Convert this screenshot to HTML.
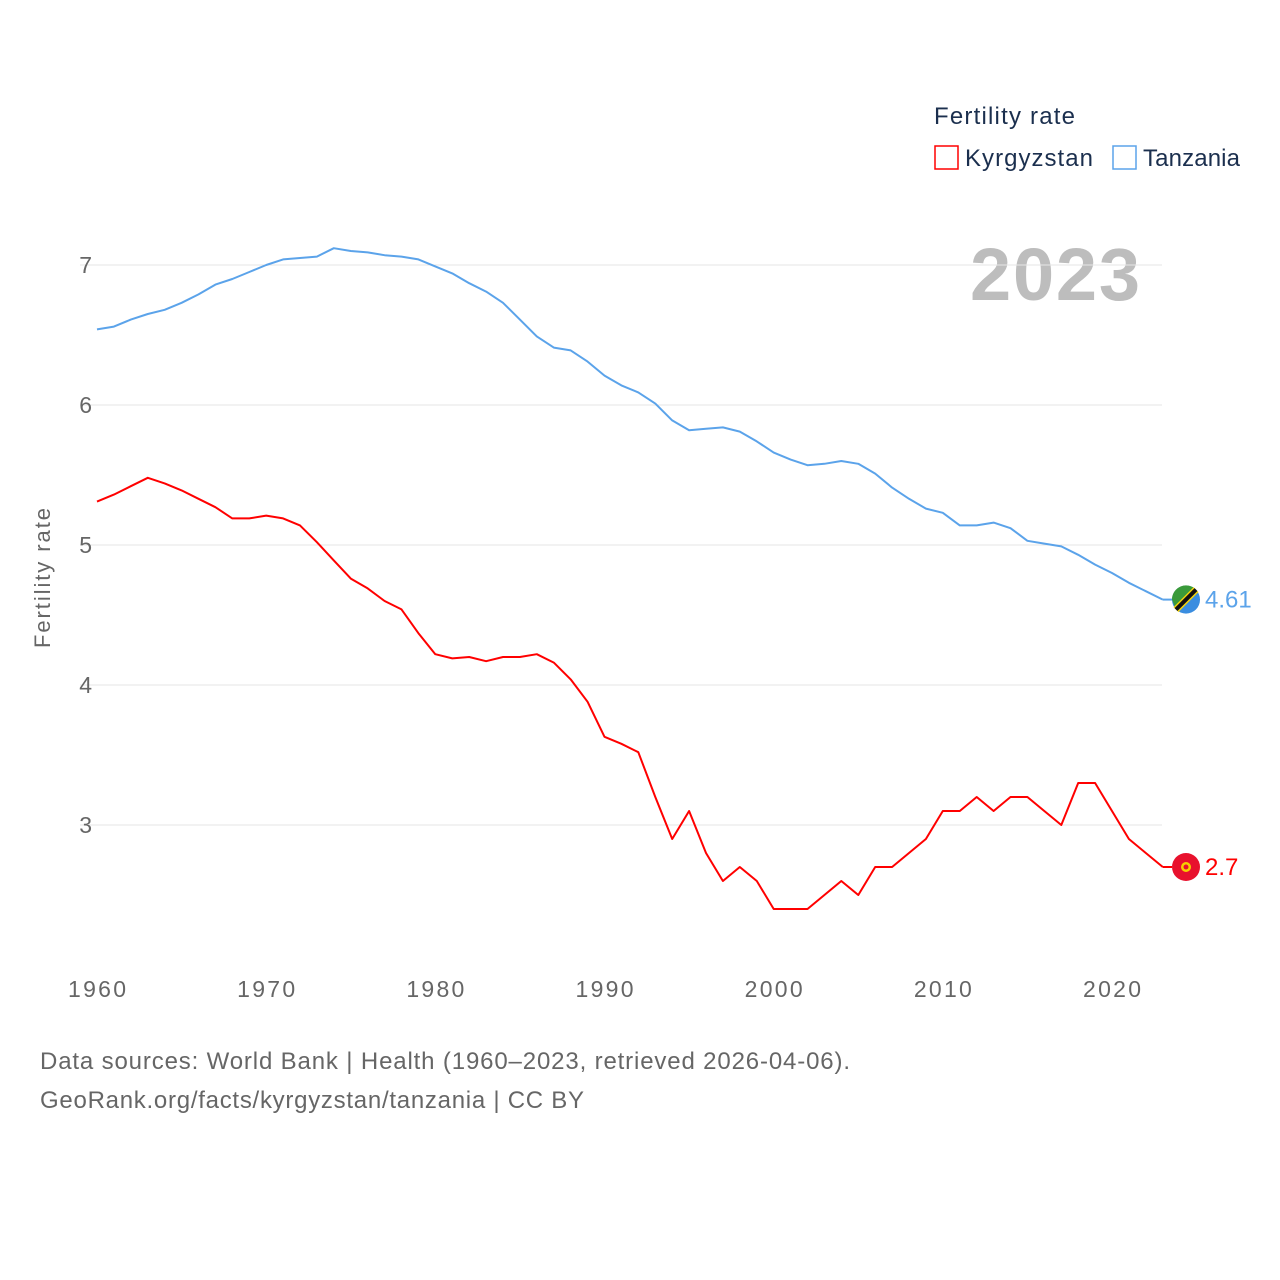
<!DOCTYPE html>
<html><head><meta charset="utf-8"><style>
body{margin:0;background:#fff;font-family:"Liberation Sans",sans-serif}
svg{display:block}
</style></head><body>
<svg id="chart" width="1280" height="1280">
<text x="934" y="124" font-size="24" fill="#1b2f4e" textLength="141">Fertility rate</text>
<g><rect x="935" y="146" width="23" height="23" fill="none" stroke="#f00" stroke-width="1.5"/><text x="965" y="166" font-size="24" fill="#1b2f4e" textLength="128">Kyrgyzstan</text></g>
<g><rect x="1113" y="146" width="23" height="23" fill="none" stroke="#5ba3ea" stroke-width="1.5"/><text x="1143" y="166" font-size="24" fill="#1b2f4e" textLength="97">Tanzania</text></g>
<text x="970" y="300" font-size="74" font-weight="bold" fill="#bdbdbd" textLength="170">2023</text>
<text transform="translate(50,578) rotate(-90)" font-size="22" fill="#666" text-anchor="middle" textLength="140">Fertility rate</text>
<g id="grid"></g><g id="xt"></g><g id="lines"></g>
<text x="40" y="1069" font-size="24" fill="#666" textLength="810">Data sources: World Bank | Health (1960–2023, retrieved 2026-04-06).</text>
<text x="40" y="1108" font-size="24" fill="#666" textLength="544">GeoRank.org/facts/kyrgyzstan/tanzania | CC BY</text>
</svg>
<script>
const startYear = 1960;
const yTicks = [3,4,5,6,7];
const xTicks = [1960,1970,1980,1990,2000,2010,2020];
const tanzania = [6.54,6.56,6.61,6.65,6.68,6.73,6.79,6.86,6.90,6.95,7.00,7.04,7.05,7.06,7.12,7.10,7.09,7.07,7.06,7.04,6.99,6.94,6.87,6.81,6.73,6.61,6.49,6.41,6.39,6.31,6.21,6.14,6.09,6.01,5.89,5.82,5.83,5.84,5.81,5.74,5.66,5.61,5.57,5.58,5.60,5.58,5.51,5.41,5.33,5.26,5.23,5.14,5.14,5.16,5.12,5.03,5.01,4.99,4.93,4.86,4.80,4.73,4.67,4.61];
const kyrgyzstan = [5.31,5.36,5.42,5.48,5.44,5.39,5.33,5.27,5.19,5.19,5.21,5.19,5.14,5.02,4.89,4.76,4.69,4.60,4.54,4.37,4.22,4.19,4.20,4.17,4.20,4.20,4.22,4.16,4.04,3.88,3.63,3.58,3.52,3.20,2.90,3.10,2.80,2.60,2.70,2.60,2.40,2.40,2.40,2.50,2.60,2.50,2.70,2.70,2.80,2.90,3.10,3.10,3.20,3.10,3.20,3.20,3.10,3.00,3.30,3.30,3.10,2.90,2.80,2.70];
const NS="http://www.w3.org/2000/svg";
const X=yr=>97+(yr-1960)*(1112-97)/60;
const Y=v=>265+(7-v)*140;
function mk(t,a,p){const e=document.createElementNS(NS,t);for(const k in a)e.setAttribute(k,a[k]);p.appendChild(e);return e;}
const grid=document.getElementById('grid'),xt=document.getElementById('xt'),lines=document.getElementById('lines');
yTicks.forEach(v=>{
 const l=mk('line',{x1:80,x2:1162,y1:Y(v),y2:Y(v),stroke:'#e6e6e6','stroke-width':1},grid);
 
 
 const t=mk('text',{x:92,y:Y(v)+8,'font-size':23,fill:'#666','text-anchor':'end'},grid);t.textContent=v;
 
 
});
xTicks.forEach(yr=>{
 const t=mk('text',{x:X(yr),y:997,'font-size':23,fill:'#666','text-anchor':'middle',textLength:58},xt);t.textContent=yr;
 
 
});
function series(arr,color,name){
 const pts=arr.map((v,i)=>X(startYear+i).toFixed(1)+','+Y(v).toFixed(1)).join(' ');
 const p=mk('polyline',{points:pts,fill:'none',stroke:color,'stroke-width':2,'stroke-linejoin':'round'},lines);
 
 
 const last=arr[arr.length-1],ly=Y(last);
 mk('line',{x1:X(startYear+arr.length-1),x2:1172,y1:ly,y2:ly,stroke:color,'stroke-width':2},lines);
 const g=mk('g',{},lines);
 
 
 if(name==='tanzania'){
  mk('circle',{cx:1186,cy:ly,r:14,fill:'#3a8de0'},g);
  mk('path',{d:`M1172,${ly} A14,14 0 0 1 1196,${ly-10} L1176,${ly+10} Z`,fill:'#3a9a3a'},g);
  mk('line',{x1:1176,y1:ly+10,x2:1196,y2:ly-10,stroke:'#f2d20a','stroke-width':7},g);
  mk('line',{x1:1176,y1:ly+10,x2:1196,y2:ly-10,stroke:'#111','stroke-width':4},g);
 } else {
  mk('circle',{cx:1186,cy:ly,r:14,fill:'#e8112d'},g);
  mk('circle',{cx:1186,cy:ly,r:5,fill:'#f5d000'},g);
  mk('circle',{cx:1186,cy:ly,r:2.5,fill:'#e8112d'},g);
 }
 const t=mk('text',{x:1205,y:ly+8,'font-size':24,fill:color},lines);t.textContent=last;
 
 
}
series(tanzania,'#5ba3ea','tanzania');
series(kyrgyzstan,'#f00','kyrgyzstan');
</script>
</body></html>
